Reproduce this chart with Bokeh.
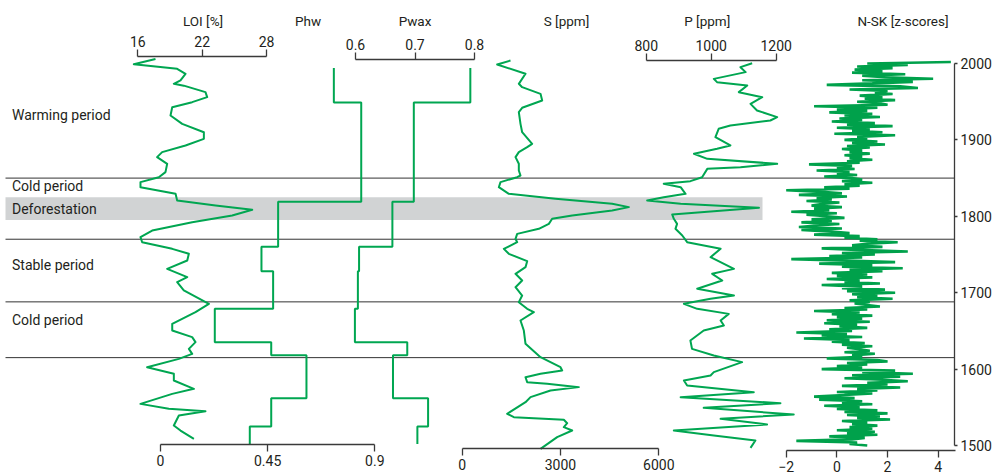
from bokeh.plotting import figure
from bokeh.models import Range1d, LinearAxis, FixedTicker, Label, BoxAnnotation
from bokeh.embed import file_html
from bokeh.resources import INLINE

# ---------------- data ----------------
period_bounds = [1850, 1770, 1688, 1615]
deforest_years = [1795, 1825]
period_labels = ["Warming period", "Cold period", "Deforestation", "Stable period", "Cold period"]
period_label_years = [1932, 1840, 1810, 1736, 1664]

loi_year = [2006, 1999, 1993, 1986.5, 1978, 1973.4, 1971, 1962.5, 1956, 1949.4, 1942.8, 1932,
            1921, 1910, 1901.4, 1892.7, 1884, 1877.4, 1868.7, 1857.8, 1851.2, 1844.7, 1838.1,
            1829.4, 1820.7, 1814.1, 1808.5, 1801, 1792.3, 1781.4, 1772.7, 1766.1, 1757.4,
            1750.9, 1742.1, 1731.2, 1720.3, 1713.8, 1702.9, 1685.4, 1674.5, 1659.2, 1650.5,
            1641.8, 1635.3, 1626.5, 1620, 1613.4, 1602.5, 1593.8, 1585.1, 1574.2, 1567.6,
            1554.5, 1548, 1544.9, 1539.3, 1526.2, 1519.6, 1508.7]
loi_val = [17.65, 15.63, 19.67, 20.45, 19.98, 19.36, 20.29, 22.31, 22.47, 21.07, 19.21, 19.05,
           20.14, 22.16, 22.16, 20.45, 18.27, 17.8, 18.74, 18.58, 17.96, 16.25, 16.25,
           19.52, 19.67, 23.25, 26.67, 24.8, 21.07, 17.34, 16.25, 16.41, 19.21,
           20.76, 20.61, 18.74, 20.61, 19.67, 20.29, 22.63, 21.38, 19.21, 19.21,
           21.07, 21.38, 20.76, 21.07, 19.83, 16.87, 19.36, 19.36, 21.23, 19.21,
           16.25, 18.89, 22.31, 19.83, 19.36, 19.98, 21.23]

step_breaks = [1994, 1949, 1819, 1760, 1728, 1679, 1635, 1618, 1562, 1525, 1502]
phw_val = [0.728, 0.843, 0.494, 0.424, 0.473, 0.228, 0.465, 0.613, 0.465, 0.375]
pwax_val = [0.793, 0.698, 0.662, 0.606, 0.604, 0.599, 0.687, 0.663, 0.722, 0.704]

s_year = [2003.9, 1998.7, 1986.5, 1973.4, 1969, 1960.3, 1951.6, 1942, 1936.3, 1921, 1910.1,
          1894.9, 1890.5, 1884, 1877.4, 1868.7, 1860, 1853.4, 1851.2, 1844.7, 1838.1, 1829.4,
          1822.9, 1816.3, 1812, 1807.6, 1801, 1796.7, 1790.1, 1783.6, 1777, 1770.5, 1766.1,
          1757.4, 1750.9, 1741.3, 1733.4, 1724.7, 1716, 1707.2, 1696.3, 1687.6, 1678.9,
          1674.5, 1663.6, 1650.5, 1633.1, 1615.6, 1602.5, 1598.2, 1593.8, 1589.4, 1582.9,
          1580.7, 1576.4, 1572, 1563.3, 1556.7, 1541.5, 1537.1, 1533.6, 1529.2, 1524,
          1519.6, 1510.9, 1495.6]
s_val = [1474, 1067, 1932, 1728, 1830, 2390, 2441, 1830, 1728, 1779, 1830,
         2135, 1983, 1728, 1627, 1728, 1728, 1779, 1678, 1169, 1118, 1423,
         2848, 4577, 5086, 4577, 3356, 2746, 2644, 2339, 1678, 1627, 1678,
         1271, 1423, 1983, 1932, 1627, 1830, 1627, 1830, 1728, 1983,
         2186, 1779, 1881, 1932, 2390, 3000, 3051, 2390, 1932, 1983,
         2593, 3560, 2695, 2085, 1932, 1372, 1576, 3102, 3204, 3102,
         3356, 2898, 2390]

p_year = [2000.4, 1995.2, 1988.7, 1979.9, 1975.6, 1971.2, 1962.5, 1955.9, 1947.2, 1938.5,
          1929.8, 1925.4, 1918.8, 1914.5, 1903.6, 1892.7, 1888.3, 1881.8, 1875.2, 1868.7,
          1864.3, 1862.1, 1851.2, 1846, 1842.5, 1838.1, 1829.4, 1825, 1820.7, 1816.3,
          1811.1, 1806.7, 1802.4, 1796.7, 1790.1, 1783.6, 1774.9, 1766.1, 1757.4, 1746.5,
          1731.2, 1724.7, 1716, 1705.1, 1696.3, 1692, 1685.4, 1678.9, 1672.3, 1663.6,
          1657.1, 1650.5, 1637.4, 1626.5, 1617.8, 1609.1, 1596, 1591.6, 1585.1, 1578.5,
          1569.8, 1563.3, 1555.4, 1549.3, 1540.6, 1534.9, 1527.5, 1519.6, 1513.1, 1506.5,
          1496.9]
p_val = [1126, 1090, 1106, 1008, 1018, 1111, 1085, 1157, 1121, 1141,
         1203, 1182, 1059, 1023, 1013, 1059, 1018, 947, 988, 1203,
         1090, 988, 972, 936, 854, 906, 921, 854, 803, 906,
         1147, 1008, 880, 885, 895, 890, 911, 926, 1029, 998,
         1070, 1003, 1034, 957, 1070, 998, 916, 957, 1054, 1029,
         1039, 977, 936, 941, 1008, 1095, 1008, 998, 916, 926,
         1131, 906, 1213, 977, 1254, 1029, 1172, 885, 1008, 1136,
         1121]

nsk_year = list(range(2002, 1499, -2))
nsk_val = [4.5, 1.2, 2.8, 0.8, 2.2, 0.7, 1.8, 0.6, 2.7, 1.0,
           1.9, 3.8, 1.0, 3.0, 1.4, -0.4, 2.5, 3.2, 0.5, 2.0,
           1.5, 2.2, 0.9, 1.8, 1.1, 2.3, 0.8, 1.7, 2.0, -0.9,
           1.6, 0.0, 1.2, -0.3, 1.4, 0.3, 1.7, 0.1, 1.0, -0.2,
           1.5, 0.4, 2.2, 0.0, 1.3, 0.6, 1.8, -0.1, 2.3, 0.8,
           1.2, 0.3, 1.6, 0.6, 1.9, 0.4, 1.3, 0.2, 1.0, 0.5,
           1.3, 0.3, 1.0, 0.5, 1.4, 0.4, 0.9, -1.1, 0.6, 0.0,
           0.7, -0.8, 0.5, 0.0, 0.8, -0.5, 0.6, 1.0, 0.2, 1.4,
           0.3, 0.9, -0.5, 0.5, -2.0, -0.6, 0.2, -1.5, 0.4, -0.8,
           -0.2, -1.2, 0.1, -0.6, -1.0, 0.2, -0.9, -0.3, -1.8, 0.0,
           -1.2, -0.4, 0.3, -1.0, -0.2, -1.4, 0.1, -0.8, -1.5, 0.2,
           -1.4, -0.2, 0.5, -0.9, 0.9, 0.3, 1.6, 0.9, 2.4, 1.2,
           0.6, 1.8, -0.6, 0.8, 2.8, 0.2, 1.5, -0.3, 1.0, -1.8,
           0.4, 2.3, -0.7, 1.4, 0.2, 2.6, 0.5, 1.8, -0.2, 1.2,
           0.0, 1.4, -0.4, 0.9, 0.3, 1.7, -0.6, 1.0, 0.2, 1.9,
           0.4, 2.3, 0.6, 1.6, 0.8, 2.2, 0.5, 1.3, 0.7, 1.2,
           1.7, 0.3, 1.2, -0.9, 0.9, -0.2, 1.4, 0.0, 1.0, -0.4,
           1.3, -0.5, 0.8, 0.1, 1.2, -0.3, 0.6, -1.6, 0.4, -0.6,
           1.0, -1.3, 0.5, -0.2, 1.1, 0.2, 1.4, 0.4, 0.9, 1.3,
           0.3, 1.5, 0.6, 1.0, -0.4, 1.6, 2.0, 0.4, 1.2, 0.0,
           1.0, -0.6, 2.3, 1.0, 3.0, 0.6, 2.5, 0.3, 1.8, 2.8,
           1.2, 2.0, 0.2, 2.5, 0.8, 1.6, 0.0, 1.4, 0.3, -0.9,
           0.7, -0.7, 1.0, 0.2, 1.4, -0.5, 0.9, 0.0, 1.6, 0.3,
           2.0, 0.4, 1.7, 0.8, 2.1, 0.2, 1.2, 0.6, 1.6, 0.5,
           1.4, 0.0, 1.5, 0.4, 1.6, -0.3, 1.1, 0.6, -1.6, 0.8,
           0.5, 1.2]

loi_ticks = [16, 22, 28]
phw_ticks = [0, 0.45, 0.9]
pwax_ticks = [0.6, 0.7, 0.8]
s_ticks = [0, 3000, 6000]
p_ticks = [800, 1000, 1200]
nsk_ticks = [-2, 0, 2, 4]
year_ticks = [1500, 1600, 1700, 1800, 1900, 2000]

# ---------------- layout helpers (pixel anchors) ----------------
W, H = 994, 476
X0, X1 = 0, W
Y0, Y1 = 0, H


def yr(sy):
    return 2000 - (sy - 63) / 0.764


def xr(v0, s0, v1, s1):
    k = (s1 - s0) / (v1 - v0)
    return Range1d(v0 - (s0 - X0) / k, v0 + (X1 - s0) / k)


FONT = "Roboto"
TXT = "#231f20"
GREEN = "#00a651"
AX = "#3a3a3a"

p = figure(width=W, height=H, output_backend="svg", toolbar_location=None,
           x_range=Range1d(X0, X1), y_range=Range1d(yr(Y1), yr(Y0)),
           x_axis_location=None, y_axis_location=None,
           min_border_left=0, min_border_right=0, min_border_top=0, min_border_bottom=0)
p.outline_line_color = None
p.background_fill_color = "white"
for g in p.grid:
    g.visible = False

p.extra_x_ranges = {
    "loi": xr(16, 137.3, 28, 266),
    "phw": xr(0, 160, 0.9, 374.3),
    "pwax": xr(0.6, 355, 0.8, 474),
    "s": xr(0, 461.7, 6000, 658.3),
    "p": xr(800, 645.7, 1200, 775.7),
    "nsk": xr(-2, 785.7, 4, 937.7),
}

# deforestation band and period lines
p.add_layout(BoxAnnotation(left=5, right=762, bottom=deforest_years[0], top=deforest_years[1],
                           fill_color="#d1d3d4", fill_alpha=1, line_color=None, level="underlay"))
p.segment(x0=[5] * len(period_bounds), x1=[954] * len(period_bounds),
          y0=period_bounds, y1=period_bounds, line_color="#333333", line_width=1)

# series
p.line(loi_val, loi_year, x_range_name="loi", line_color=GREEN, line_width=2, line_join="round")


def step_path(vals, breaks):
    xs, ys = [], []
    for i, v in enumerate(vals):
        xs += [v, v]
        ys += [breaks[i], breaks[i + 1]]
    return xs, ys


hx, hy = step_path(phw_val, step_breaks)
p.line(hx, hy, x_range_name="phw", line_color=GREEN, line_width=2)
wx, wy = step_path(pwax_val, step_breaks)
p.line(wx, wy, x_range_name="pwax", line_color=GREEN, line_width=2)
p.line(s_val, s_year, x_range_name="s", line_color=GREEN, line_width=2, line_join="round")
p.line(p_val, p_year, x_range_name="p", line_color=GREEN, line_width=2, line_join="round")
p.line(nsk_val, nsk_year, x_range_name="nsk", line_color="#00a14b", line_width=2.6)


def style(ax, ticks, size="14px"):
    ax.ticker = FixedTicker(ticks=ticks)
    ax.minor_tick_line_color = None
    ax.major_tick_in = 0
    ax.major_tick_out = 7
    ax.axis_line_color = AX
    ax.axis_line_width = 1.3
    ax.major_tick_line_color = AX
    ax.major_tick_line_width = 1.3
    ax.major_label_text_font = FONT
    ax.major_label_text_font_size = size
    ax.major_label_text_color = TXT
    ax.major_label_standoff = 3


def xaxis(name, ticks, bounds, loc_sy, side, labels=None):
    ax = LinearAxis(x_range_name=name, bounds=bounds, fixed_location=yr(loc_sy))
    style(ax, ticks)
    if labels:
        ax.major_label_overrides = labels
    p.add_layout(ax, side)
    return ax


xaxis("loi", loi_ticks, (16, 28), 56, "above")
xaxis("pwax", pwax_ticks, (0.6, 0.8), 59, "above")
xaxis("p", p_ticks, (800, 1200), 60, "above")
xaxis("phw", phw_ticks, (0, 0.9), 444, "below", {0: "0", 0.45: "0.45", 0.9: "0.9"})
xaxis("s", s_ticks, (0, 6000), 448, "below")
xaxis("nsk", nsk_ticks, (-2, 4.69), 450, "below")

yax = LinearAxis(bounds=(1500, 2000), fixed_location=954)
style(yax, year_ticks)
yax.major_tick_out = 3
p.add_layout(yax, "right")

# titles
for txt, sx in [("LOI [%]", 202.5), ("Phw", 307.5), ("Pwax", 414.5), ("S [ppm]", 566),
                ("P [ppm]", 706.7), ("N-SK [z-scores]", 902.5)]:
    p.add_layout(Label(x=sx, y=yr(20), text=txt, text_align="center", text_baseline="middle",
                       text_font=FONT, text_font_size="13.5px", text_color=TXT))

for txt, y in zip(period_labels, period_label_years):
    p.add_layout(Label(x=11.5, y=y, text=txt, text_align="left", text_baseline="middle",
                       text_font=FONT, text_font_size="14px", text_color=TXT))

open("out.html", "w").write(file_html(p, INLINE))
